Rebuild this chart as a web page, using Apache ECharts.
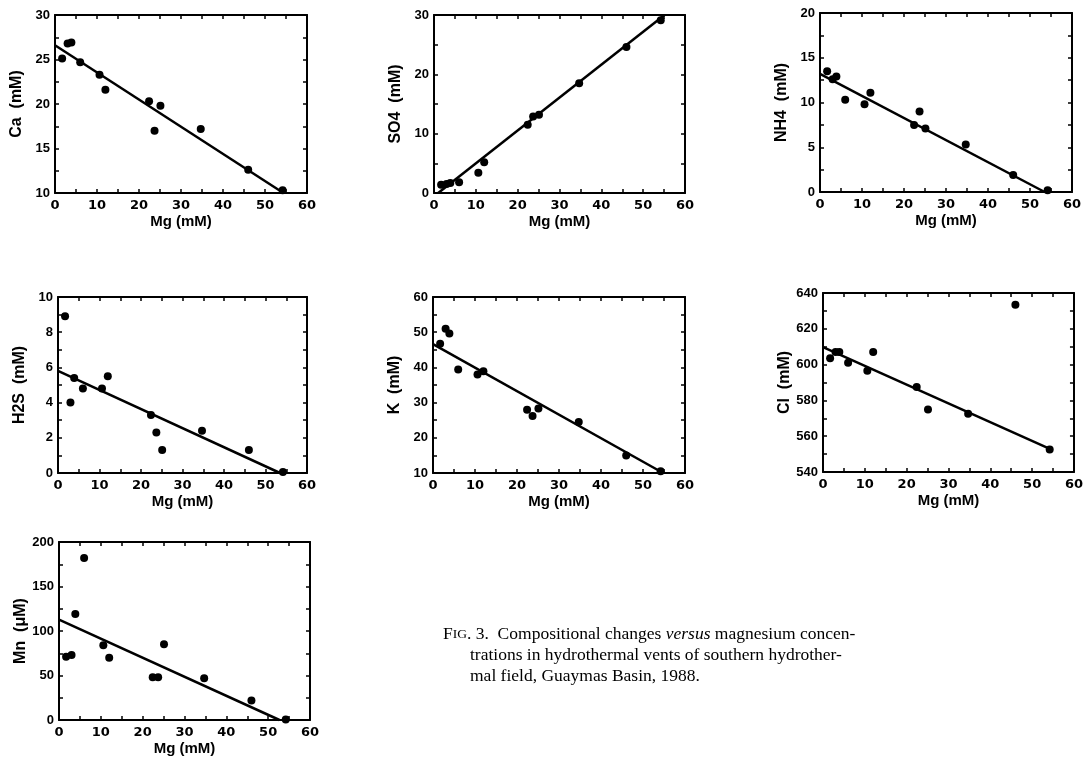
<!DOCTYPE html>
<html>
<head>
<meta charset="utf-8">
<title>Guaymas Basin vent fluids vs Mg</title>
<script src="https://cdn.jsdelivr.net/npm/echarts@6/dist/echarts.min.js"></script>
<style>
  html, body { margin: 0; padding: 0; background: #fff; }
  #chart { width: 1086px; height: 761px; }
</style>
</head>
<body>
<div id="chart"></div>
<script>
// Magnesium concentration of each vent sample (mM), shared by all panels
const mg = [1.7, 3.0, 3.9, 6.0, 10.6, 12.0, 22.4, 23.7, 25.1, 34.7, 46.0, 54.2];

// Measured constituents for the same samples (null = not measured)
const ca  = [25.1, 26.8, 26.9, 24.7, 23.3, 21.6, 20.3, 17.0, 19.8, 17.2, 12.6, 10.3];
const so4 = [1.4, 1.5, 1.7, 1.8, 3.4, 5.2, 11.5, 12.9, 13.2, 18.5, 24.6, 29.1];
const nh4 = [13.5, 12.6, 12.9, 10.3, 9.8, 11.1, 7.5, 9.0, 7.1, 5.3, 1.9, 0.2];
const h2s = [8.9, 4.0, 5.4, 4.8, 4.8, 5.5, 3.3, 2.3, 1.3, 2.4, 1.3, 0.05];
const k   = [46.7, 51.0, 49.6, 39.4, 38.0, 38.9, 28.0, 26.2, 28.3, 24.5, 15.0, 10.5];
const cl  = [603.6, 607.0, 607.0, 601.0, 596.6, 607.0, 587.5, null, 574.9, 572.5, 633.4, 552.6];
const mn  = [71, 73, 119, 182, 84, 70, 48, 48, 85, 47, 22, 0.5];

// End points of the fitted mixing lines [Mg, value]
const caFit  = [[0, 26.6], [54.4, 10]];
const so4Fit = [[1.0, 0], [55.1, 30]];
const nh4Fit = [[0, 13.2], [53.5, 0]];
const h2sFit = [[0, 5.8], [53.5, 0]];
const kFit   = [[0, 46.6], [54.8, 10]];
const clFit  = [[0, 609.8], [54.5, 552.6]];
const mnFit  = [[0, 112.9], [52.7, 0]];

// Axis settings
const xRange = { min: 0, max: 60, interval: 10 };
const yNames = ['Ca  (mM)', 'SO4  (mM)', 'NH4  (mM)', 'H2S  (mM)', 'K  (mM)', 'Cl  (mM)', 'Mn  (\u03bcM)'];
const yRanges = [
  { min: 10, max: 30, interval: 5 },
  { min: 0, max: 30, interval: 10 },
  { min: 0, max: 20, interval: 5 },
  { min: 0, max: 10, interval: 2 },
  { min: 10, max: 60, interval: 10 },
  { min: 540, max: 640, interval: 20 },
  { min: 0, max: 200, interval: 50 }
];
const xName = 'Mg (mM)';

const panelValues = [ca, so4, nh4, h2s, k, cl, mn];
const panelFits = [caFit, so4Fit, nh4Fit, h2sFit, kFit, clFit, mnFit];

// Plot boxes
const boxes = [
  { left: 55,  top: 15,  width: 252, height: 178 },
  { left: 434, top: 15,  width: 251, height: 178 },
  { left: 820, top: 13,  width: 252, height: 179 },
  { left: 58,  top: 297, width: 249, height: 176 },
  { left: 433, top: 297, width: 252, height: 176 },
  { left: 823, top: 293, width: 252, height: 179 },
  { left: 59,  top: 542, width: 251, height: 178 }
];

const ink = '#000';
const lineStyle = { color: ink, width: 2 };
const tick = { show: true, inside: true, length: 4, lineStyle: { color: ink, width: 1.5 } };
const minor = { show: true, splitNumber: 2, length: 4, lineStyle: { color: ink, width: 1.5 } };

const grid = [], xAxis = [], yAxis = [], series = [];

boxes.forEach((b, i) => {
  grid.push(Object.assign({ containLabel: false }, b));
  // bottom x axis with labels
  xAxis.push(Object.assign({
    type: 'value', gridIndex: i, position: 'bottom',
    name: xName, nameLocation: 'middle', nameGap: 21,
    nameTextStyle: { fontFamily: 'Liberation Sans', fontWeight: 'bold', fontSize: 15, color: ink },
    axisLine: { show: true, onZero: false, lineStyle },
    axisTick: tick, minorTick: minor,
    axisLabel: { fontFamily: 'DejaVu Sans', fontWeight: 'bold', fontSize: 13, color: ink, margin: 6 },
    splitLine: { show: false }, minorSplitLine: { show: false }
  }, xRange));
  // top frame edge
  xAxis.push(Object.assign({
    type: 'value', gridIndex: i, position: 'top',
    axisLine: { show: true, onZero: false, lineStyle },
    axisTick: tick, minorTick: minor,
    axisLabel: { show: false },
    splitLine: { show: false }
  }, xRange));
  // left y axis with labels
  yAxis.push(Object.assign({
    type: 'value', gridIndex: i, position: 'left',
    name: yNames[i], nameLocation: 'middle', nameGap: 30, nameRotate: 90,
    nameTextStyle: { fontFamily: 'Liberation Sans', fontWeight: 'bold', fontSize: 16, color: ink },
    axisLine: { show: true, onZero: false, lineStyle },
    axisTick: tick, minorTick: minor,
    axisLabel: { fontFamily: 'Liberation Sans Narrow, Liberation Sans', fontWeight: 'bold', fontSize: 13, color: ink, margin: 5 },
    splitLine: { show: false }, minorSplitLine: { show: false }
  }, yRanges[i]));
  // right frame edge
  yAxis.push(Object.assign({
    type: 'value', gridIndex: i, position: 'right',
    axisLine: { show: true, onZero: false, lineStyle },
    axisTick: tick, minorTick: minor,
    axisLabel: { show: false },
    splitLine: { show: false }
  }, yRanges[i]));

  const pts = [];
  mg.forEach((m, j) => { if (panelValues[i][j] !== null) pts.push([m, panelValues[i][j]]); });

  series.push({
    type: 'line', xAxisIndex: 2 * i, yAxisIndex: 2 * i,
    data: panelFits[i], showSymbol: false, symbol: 'none', clip: false,
    lineStyle: { color: ink, width: 2.5 }, silent: true, z: 2
  });
  series.push({
    type: 'scatter', xAxisIndex: 2 * i, yAxisIndex: 2 * i,
    data: pts, symbol: 'circle', symbolSize: 8, clip: false,
    itemStyle: { color: ink, opacity: 1 }, silent: true, z: 3
  });
});

const chart = echarts.init(document.getElementById('chart'), null, { renderer: 'canvas' });
chart.setOption({
  animation: false,
  backgroundColor: '#fff',
  grid, xAxis, yAxis, series,
  graphic: [
    {
      type: 'text', left: 443, top: 625,
      style: {
        text: '{a|F}{b|IG}{a|. 3.  Compositional changes }{i|versus}{a| magnesium concen-}',
        rich: {
          a: { fontFamily: 'Liberation Serif', fontSize: 17.5, fill: ink },
          b: { fontFamily: 'Liberation Serif', fontSize: 13.5, fill: ink },
          i: { fontFamily: 'Liberation Serif', fontSize: 17.5, fontStyle: 'italic', fill: ink }
        }
      }
    },
    {
      type: 'text', left: 470, top: 646,
      style: { text: 'trations in hydrothermal vents of southern hydrother-', font: '17.5px "Liberation Serif"', fill: ink }
    },
    {
      type: 'text', left: 470, top: 667,
      style: { text: 'mal field, Guaymas Basin, 1988.', font: '17.5px "Liberation Serif"', fill: ink }
    }
  ]
});
</script>
</body>
</html>
